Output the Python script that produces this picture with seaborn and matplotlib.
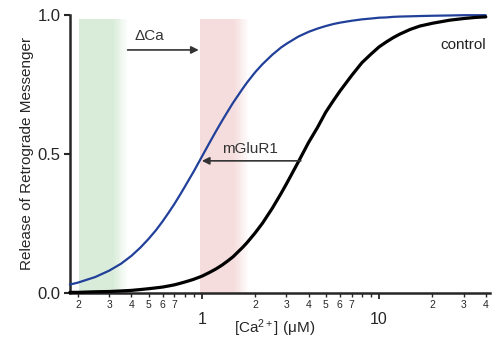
import numpy as np
import pandas as pd

import matplotlib
matplotlib.use("Agg")
import matplotlib.pyplot as plt
import matplotlib.ticker as mticker
import seaborn as sns


# ==========================================================
# DATA
# ==========================================================

ca_conc = [
    0.18, 0.2, 0.25, 0.3, 0.35, 0.4, 0.45, 0.5, 0.55, 0.6, 0.65,
    0.7, 0.75, 0.8, 0.85, 0.9, 1.0, 1.1, 1.2, 1.3, 1.4, 1.5, 1.7,
    1.8, 2.0, 2.2, 2.5, 2.8, 3.0, 3.5, 4.0, 4.5, 5.0, 5.5, 6.0,
    7.0, 8.0, 9.0, 10.0, 11.0, 12.0, 13.0, 15.0, 17.0, 20.0,
    25.0, 30.0, 35.0, 40.0
]

release_mglur1 = [
    0.030, 0.037, 0.057, 0.080, 0.105, 0.133, 0.163, 0.194, 0.225,
    0.257, 0.289, 0.320, 0.351, 0.381, 0.410, 0.437, 0.490, 0.538,
    0.581, 0.619, 0.653, 0.684, 0.735, 0.757, 0.794, 0.823, 0.857,
    0.883, 0.896, 0.922, 0.939, 0.951, 0.960, 0.967, 0.972, 0.979,
    0.984, 0.987, 0.990, 0.991, 0.993, 0.994, 0.995, 0.996, 0.997,
    0.998, 0.999, 0.999, 0.999
]

release_control = [
    0.002, 0.002, 0.004, 0.005, 0.007, 0.009, 0.012, 0.015, 0.018,
    0.021, 0.025, 0.029, 0.034, 0.039, 0.044, 0.049, 0.060, 0.073,
    0.086, 0.100, 0.115, 0.130, 0.164, 0.181, 0.216, 0.251, 0.305,
    0.358, 0.392, 0.471, 0.541, 0.596, 0.650, 0.690, 0.725, 0.782,
    0.828, 0.859, 0.885, 0.903, 0.918, 0.930, 0.948, 0.960, 0.970,
    0.981, 0.987, 0.991, 0.993
]

green_band = (0.203, 0.381)
red_band = (0.975, 1.83)
band_top = 0.986

GREEN = "#d9ecd9"
RED = "#f6dddd"
BLUE = "#21409a"


# ==========================================================
# STYLE
# ==========================================================

sns.set_style("ticks")
plt.rcParams["font.family"] = ["Liberation Sans", "DejaVu Sans"]
plt.rcParams["mathtext.fontset"] = "custom"
plt.rcParams["mathtext.rm"] = "Liberation Sans"
plt.rcParams["mathtext.it"] = "Liberation Sans"

fig = plt.figure(figsize=(4.92, 3.39), dpi=100)
ax = fig.add_axes([0.142, 0.136, 0.853, 0.82])


# ==========================================================
# SHADED BANDS (soft right edge)
# ==========================================================

def shaded_band(lo, hi, color):

    fade = 0.08

    log_hi = np.log10(hi)

    ax.axvspan(
        lo,
        10 ** (log_hi - fade),
        ymin=0,
        ymax=band_top,
        color=color,
        lw=0,
        zorder=0
    )

    steps = 8
    edges = np.linspace(log_hi - fade, log_hi, steps + 1)

    for i in range(steps):
        ax.axvspan(
            10 ** edges[i],
            10 ** edges[i + 1],
            ymin=0,
            ymax=band_top,
            color=color,
            alpha=1 - (i + 0.5) / steps,
            lw=0,
            zorder=0
        )


shaded_band(*green_band, GREEN)
shaded_band(*red_band, RED)


# ==========================================================
# CURVES
# ==========================================================

df = pd.DataFrame({
    "ca": ca_conc,
    "mGluR1": release_mglur1,
    "control": release_control
})

sns.lineplot(
    data=df,
    x="ca",
    y="mGluR1",
    color=BLUE,
    lw=1.6,
    ax=ax,
    clip_on=False,
    zorder=3
)

sns.lineplot(
    data=df,
    x="ca",
    y="control",
    color="black",
    lw=2.3,
    ax=ax,
    clip_on=False,
    zorder=3
)


# ==========================================================
# ANNOTATIONS
# ==========================================================

arrow_kw = dict(
    arrowstyle="-|>",
    color="#333333",
    lw=1.2,
    mutation_scale=11,
    shrinkA=0,
    shrinkB=0
)

ax.annotate(
    "",
    xy=(0.96, 0.874),
    xytext=(0.381, 0.874),
    arrowprops=arrow_kw
)

ax.text(
    0.506, 0.924, "\u0394Ca",
    ha="center", va="center",
    fontsize=11, color="#333333"
)

ax.annotate(
    "",
    xy=(1.0, 0.475),
    xytext=(3.62, 0.475),
    arrowprops=arrow_kw
)

ax.text(
    1.88, 0.518, "mGluR1",
    ha="center", va="center",
    fontsize=11, color="#333333"
)

ax.text(
    29.9, 0.892, "control",
    ha="center", va="center",
    fontsize=11, color="#222222"
)


# ==========================================================
# AXES
# ==========================================================

ax.set_xscale("log")
ax.set_xlim(0.18, 42)
ax.set_ylim(0, 1.0)

ax.xaxis.set_major_locator(mticker.FixedLocator([1, 10]))
ax.xaxis.set_major_formatter(mticker.FixedFormatter(["1", "10"]))

minor_ticks = [m * 10.0 ** e for e in (-1, 0, 1) for m in range(2, 10)]
minor_ticks = [t for t in minor_ticks if 0.18 <= t <= 42]


def minor_label(val, pos):
    lead = int(round(val / 10 ** np.floor(np.log10(val) + 1e-9)))
    return str(lead) if lead <= 7 else ""


ax.xaxis.set_minor_locator(mticker.FixedLocator(minor_ticks))
ax.xaxis.set_minor_formatter(mticker.FuncFormatter(minor_label))

ax.set_yticks([0.0, 0.5, 1.0])
ax.yaxis.set_major_formatter(mticker.FormatStrFormatter("%.1f"))

ax.tick_params(
    axis="x", which="major",
    length=4.5, width=1.3, labelsize=11.5, pad=9
)
ax.tick_params(
    axis="x", which="minor",
    length=3, width=1.0, labelsize=7.5, pad=2
)
ax.tick_params(
    axis="y", which="major",
    length=4.5, width=1.5, labelsize=12, pad=2
)

for side in ("left", "bottom"):
    ax.spines[side].set_linewidth(1.8)

sns.despine(ax=ax)

ax.set_xlabel("[Ca$^{\\mathrm{2+}}$] (\u03bcM)", fontsize=11)
ax.xaxis.set_label_coords(0.488, -0.126)
ax.xaxis.label.set_va("center")

ax.set_ylabel("Release of Retrograde Messenger", fontsize=11)
ax.yaxis.set_label_coords(-0.102, 0.5)
ax.yaxis.label.set_va("center")

fig.savefig("out.png", dpi=100)
plt.close(fig)
